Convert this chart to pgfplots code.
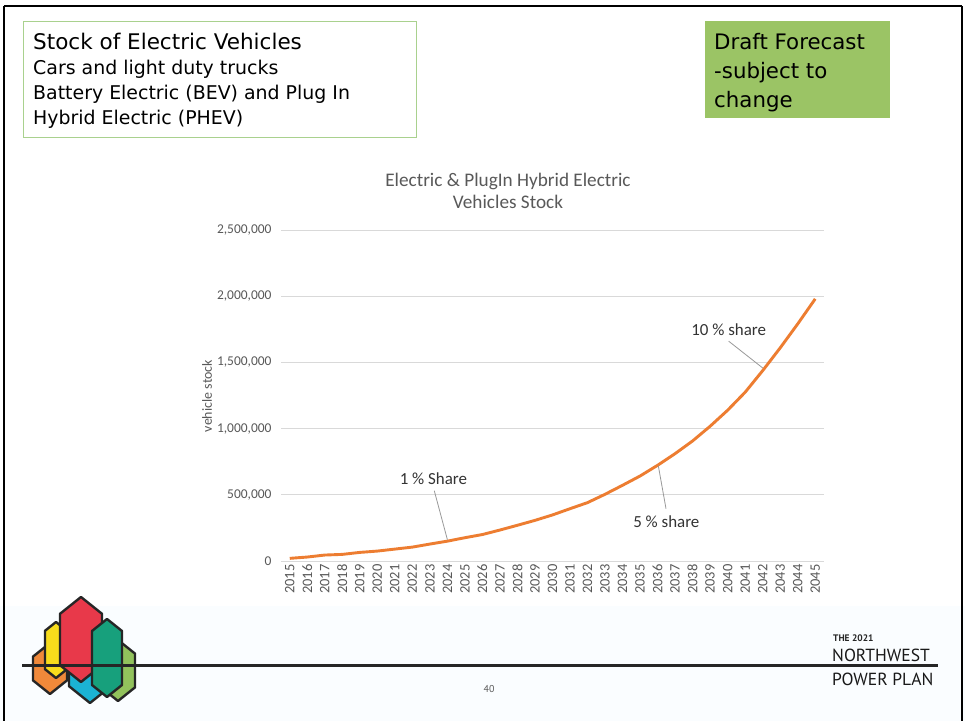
\documentclass[border=0pt]{standalone}
\usepackage{pgfplots}
\pgfplotsset{compat=1.18}
\usepackage{fontspec}
\setmainfont{DejaVu Sans}
\newfontfamily\calibri{Carlito}
\newfontfamily\footfont{PT Sans}
\definecolor{evorange}{HTML}{ED7D31}
\definecolor{gridgray}{HTML}{D9D9D9}
\definecolor{labgray}{HTML}{595959}
\definecolor{boxgreen}{HTML}{9BC465}
\definecolor{edgegreen}{HTML}{A9D18E}

\pgfplotstableread{
year stock
2015 20000
2016 30000
2017 45000
2018 50000
2019 65000
2020 75000
2021 90000
2022 105000
2023 128000
2024 150000
2025 176000
2026 200000
2027 234000
2028 270000
2029 307000
2030 348000
2031 395000
2032 441000
2033 504000
2034 572000
2035 642000
2036 723000
2037 811000
2038 907000
2039 1018000
2040 1139000
2041 1275000
2042 1438000
2043 1610000
2044 1791000
2045 1980000
}\evstock

\begin{document}
\begin{tikzpicture}
\useasboundingbox (0,0) rectangle (965bp,-721bp);
% slide background and frame
\fill[white] (0,0) rectangle (965bp,-721bp);
\fill[cyan!2] (0,-606bp) rectangle (965bp,-721bp);
\draw[line width=2.5bp] (4bp,-6bp) -- (962bp,-6bp) (4bp,-6bp) -- (4bp,-730bp) (962bp,-6bp) -- (962bp,-730bp);

\begin{axis}[
  at={(281bp,-561bp)}, anchor=south west,
  scale only axis, width=543bp, height=331bp,
  xmin=2014.5, xmax=2045.5, ymin=0, ymax=2500000,
  xtick={2015,...,2045},
  ytick={0,500000,1000000,1500000,2000000,2500000},
  scaled y ticks=false,
  /pgf/number format/assume math mode=true,
  axis line style={draw=none},
  major tick length=0pt,
  ymajorgrids, grid style={gridgray, line width=1bp},
  ticklabel style={font=\calibri\fontsize{13.5}{15}\selectfont, text=labgray},
  yticklabel style={xshift=-6bp, /pgf/number format/fixed, /pgf/number format/precision=0, /pgf/number format/1000 sep={,}},
  xticklabel style={rotate=90, anchor=east, font=\calibri\fontsize{14.5}{15}\selectfont, /pgf/number format/fixed, /pgf/number format/1000 sep={}},
  clip=false]
\addplot[evorange, line width=2.9bp] table[x=year, y=stock] {\evstock};
% callouts
\draw[gray!80, line width=0.8bp] (axis cs:2023.25,531000) -- (axis cs:2024,161000);
\draw[gray!80, line width=0.8bp] (axis cs:2036.48,395000) -- (axis cs:2036.04,720000);
\draw[gray!80, line width=0.8bp] (axis cs:2040.06,1660000) -- (axis cs:2042,1458000);
\node[font=\calibri\fontsize{17}{19}\selectfont, text=black!80] at (axis cs:2023.2,620000) {1 \% Share};
\node[font=\calibri\fontsize{17}{19}\selectfont, text=black!80] at (axis cs:2036.5,297000) {5 \% share};
\node[font=\calibri\fontsize{17}{19}\selectfont, text=black!80] at (axis cs:2040.06,1748000) {10 \% share};
\end{axis}

\begin{scope}[x=1bp, y=-1bp]
% chart title and y label
\node[font=\calibri\fontsize{19.3}{22}\selectfont, text=labgray, align=center] at (508,191) {Electric \& PlugIn Hybrid Electric\\Vehicles Stock};
\node[font=\calibri\fontsize{14}{16}\selectfont, text=labgray, rotate=90] at (207,396) {vehicle stock};

% heading box
\draw[edgegreen, line width=1bp] (23,21) rectangle (416,137);
\node[anchor=base west, inner sep=0, font=\fontsize{21.6}{24}\selectfont] at (33,49) {Stock of Electric Vehicles};
\node[anchor=base west, inner sep=0, font=\fontsize{19}{22}\selectfont] at (33,74) {Cars and light duty trucks};
\node[anchor=base west, inner sep=0, font=\fontsize{19}{22}\selectfont] at (33,99) {Battery Electric (BEV) and Plug In};
\node[anchor=base west, inner sep=0, font=\fontsize{19}{22}\selectfont] at (33,124) {Hybrid Electric (PHEV)};

% draft box
\fill[boxgreen] (705,21) rectangle (890,118);
\node[anchor=base west, inner sep=0, font=\fontsize{21.4}{24}\selectfont] at (714,49) {Draft Forecast};
\node[anchor=base west, inner sep=0, font=\fontsize{21.4}{24}\selectfont] at (714,78) {-subject to};
\node[anchor=base west, inner sep=0, font=\fontsize{21.4}{24}\selectfont] at (714,107) {change};

% footer
\draw[black!85, line width=3bp] (22,665) -- (938,665);
\node[text=labgray, font=\footfont\fontsize{10}{12}\selectfont] at (489,689) {40};
\node[anchor=base west, inner sep=0, font=\footfont\bfseries\fontsize{9.5}{10}\selectfont, text=black!85] at (833,641) {THE 2021};
\node[anchor=base west, inner sep=0, font=\footfont\fontsize{17.6}{18}\selectfont, text=black!90] at (832,661) {NORTHWEST};
\node[anchor=base west, inner sep=0, font=\footfont\fontsize{17.6}{18}\selectfont, text=black!90] at (832,685) {POWER PLAN};

% logo
\tikzset{hexa/.style={draw=black!85, line width=2.4bp, line join=round}}
\def\hexa#1#2#3#4#5{\filldraw[hexa, fill=#1] (#2,#4) -- (#2+#3,#4+0.8*#3) -- (#2+#3,#5-0.8*#3) -- (#2,#5) -- (#2-#3,#5-0.8*#3) -- (#2-#3,#4+0.8*#3) -- cycle;}
\definecolor{lgorange}{HTML}{F0893A}
\definecolor{lgyellow}{HTML}{F7DC1C}
\definecolor{lgred}{HTML}{E8394A}
\definecolor{lgcyan}{HTML}{1BB3D4}
\definecolor{lgteal}{HTML}{17A07C}
\definecolor{lggreen}{HTML}{92C25C}
\hexa{lggreen}{118}{17}{640}{701}
\hexa{lgcyan}{90}{21}{625}{703}
\hexa{lgorange}{50}{17}{643}{694}
\hexa{lgyellow}{56}{11}{622}{678}
\hexa{lgred}{81}{21}{597}{682}
\hexa{lgteal}{107}{15}{619}{697}
\draw[black!85, line width=3bp] (22,665) -- (140,665);
\end{scope}
\end{tikzpicture}
\end{document}
